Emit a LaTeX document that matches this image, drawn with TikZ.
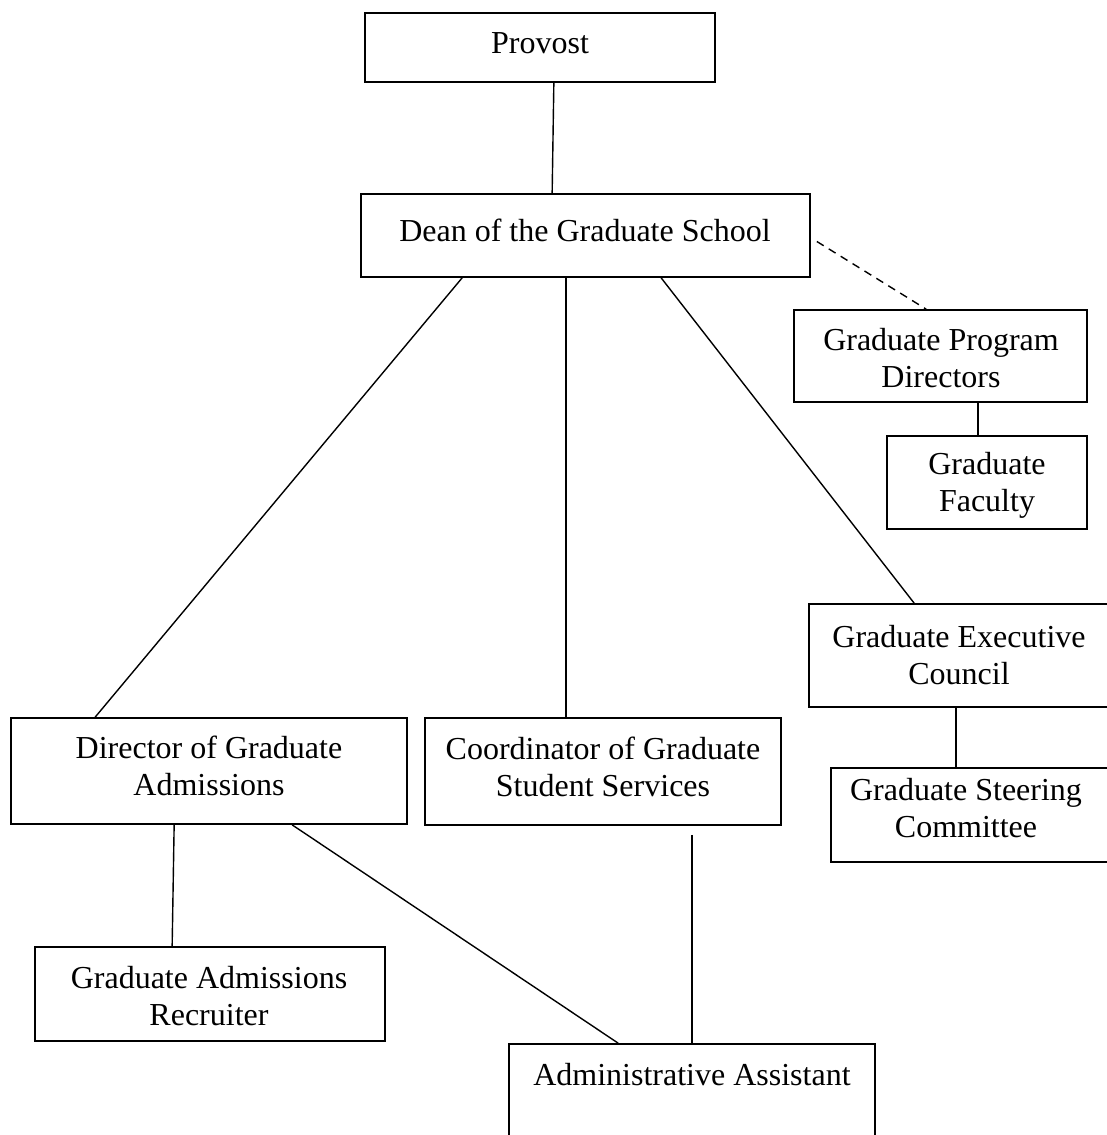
\documentclass[tikz,border=0pt]{standalone}
\usepackage{fontspec}
\setmainfont{Liberation Serif}
\usetikzlibrary{fit}
\begin{document}
\begin{tikzpicture}[x=1pt,y=-1pt,
  box/.style={draw, line width=1.7pt, inner sep=0pt},
  lbl/.style={font=\fontsize{32}{36.8}\selectfont, align=center, inner sep=0pt},
  conn/.style={line width=1.4pt},
  dashconn/.style={line width=1.4pt, dash pattern=on 8pt off 6pt}]
\useasboundingbox (0,0) rectangle (1107,1135);
\clip (0,0) rectangle (1107,1135);
% boxes
\node[box, fit={(365,13) (715,82)}] (prov) {};
\node[box, fit={(361,194) (810,277)}] (dean) {};
\node[box, fit={(794,310) (1087,402)}] (gpd) {};
\node[box, fit={(887,436) (1087,529)}] (fac) {};
\node[box, fit={(809,604) (1112,707)}] (exec) {};
\node[box, fit={(831,768) (1112,862)}] (steer) {};
\node[box, fit={(11,718) (407,824)}] (dir) {};
\node[box, fit={(425,718) (781,825)}] (coord) {};
\node[box, fit={(35,947) (385,1041)}] (recr) {};
\node[box, fit={(509,1044) (875,1160)}] (admin) {};
% labels
\node[lbl] (provT) at (540,43) {Provost};
\node[lbl] (deanT) at (585,230) {Dean of the Graduate School};
\node[lbl] (gpdT) at (941,358) {Graduate Program\\Directors};
\node[lbl] (facT) at (987,485) {Graduate\\Faculty};
\node[lbl] (execT) at (959,655) {Graduate Executive\\Council};
\node[lbl] (steerT) at (966,808) {Graduate Steering\\Committee};
\node[lbl] (dirT) at (209,766) {Director of Graduate\\Admissions};
\node[lbl] (coordT) at (603,767) {Coordinator of Graduate\\Student Services};
\node[lbl] (recrT) at (209,996) {Graduate Admissions\\Recruiter};
\node[lbl] (adminT) at (692,1075) {Administrative Assistant};
% connectors
\draw[conn] ([xshift=-162pt]prov.south east) -- ([xshift=192pt]dean.north west);
\draw[conn] ([xshift=102pt]dean.south west) -- ([xshift=85pt]dir.north west);
\draw[conn] ([xshift=206pt]dean.south west) -- ([xshift=142pt]coord.north west);
\draw[conn] ([xshift=301pt]dean.south west) -- ([xshift=106pt]exec.north west);
\coordinate (dashS) at ([xshift=6pt,yshift=-6pt]dean.east);
\draw[dashconn] (dashS) -- ([xshift=133pt]gpd.north west);
\draw[conn] ([xshift=185pt]gpd.south west) -- ([xshift=92pt]fac.north west);
\draw[conn] ([xshift=148pt]exec.south west) -- ([xshift=126pt]steer.north west);
\draw[conn] ([xshift=164pt]dir.south west) -- ([xshift=138pt]recr.north west);
\draw[conn] ([xshift=282pt]dir.south west) -- ([xshift=110pt]admin.north west);
\coordinate (coordS) at ([xshift=268pt,yshift=-9pt]coord.south west);
\draw[conn] (coordS) -- ([xshift=184pt]admin.north west);
\end{tikzpicture}
\end{document}
